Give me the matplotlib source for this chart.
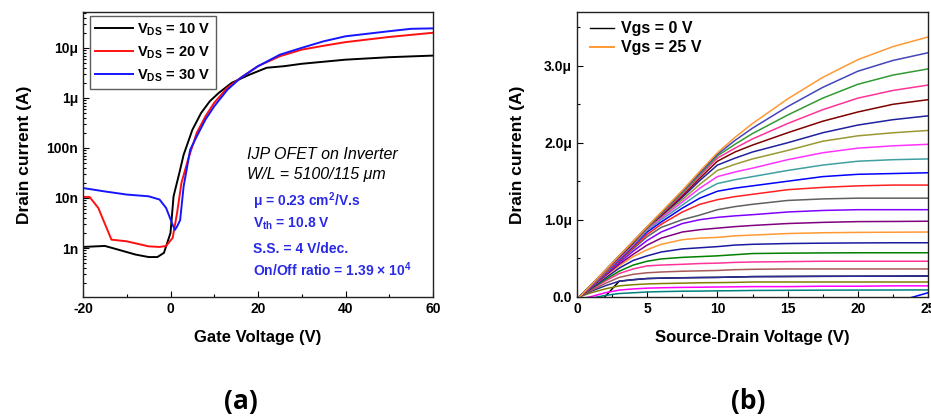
import numpy as np
import matplotlib
matplotlib.use("Agg")
import matplotlib.pyplot as plt
from matplotlib.lines import Line2D
from matplotlib.ticker import FixedLocator, NullFormatter, LogLocator, MultipleLocator

plt.rcParams['font.family'] = ['Liberation Sans', 'DejaVu Sans']
plt.rcParams['font.weight'] = 'bold'
plt.rcParams['axes.unicode_minus'] = False
plt.rcParams['mathtext.fontset'] = 'custom'
plt.rcParams['mathtext.rm'] = 'Liberation Sans:bold'
plt.rcParams['mathtext.bf'] = 'Liberation Sans:bold'
plt.rcParams['mathtext.it'] = 'Liberation Sans:bold:italic'
plt.rcParams['mathtext.default'] = 'bf'

# ---------------- (a) transfer curves ----------------
vg_10 = [-20, -15, -12, -8, -5, -3, -1.5, 0, 0.7, 2, 3, 5, 7, 9, 11, 14, 18, 22, 26, 30, 40, 50, 60]
id_10 = [1.05e-9, 1.1e-9, 0.93e-9, 0.74e-9, 0.66e-9, 0.66e-9, 0.8e-9, 2e-9, 10.8e-9, 31e-9, 73e-9,
         230e-9, 500e-9, 860e-9, 1.25e-6, 2e-6, 2.9e-6, 4e-6, 4.3e-6, 4.8e-6, 5.8e-6, 6.5e-6, 7e-6]

vg_20 = [-20, -18.5, -16.5, -13.5, -10, -5, -2.5, -1, 0.5, 1.5, 2.5, 4, 6, 8, 10, 13, 16, 20, 25, 30, 35, 40, 50, 60]
id_20 = [10.5e-9, 10.5e-9, 6.3e-9, 1.47e-9, 1.36e-9, 1.08e-9, 1.05e-9, 1.1e-9, 1.6e-9, 5e-9, 20e-9, 58e-9,
         200e-9, 430e-9, 800e-9, 1.6e-6, 2.5e-6, 4.3e-6, 6.8e-6, 9.2e-6, 11e-6, 13e-6, 16.5e-6, 20e-6]

vg_30 = [-20, -15, -10, -5, -2.5, -1, 0.5, 1, 1.5, 2.2, 3, 4.5, 6, 8, 10, 13, 16, 20, 25, 30, 35, 40, 50, 55, 60]
id_30 = [15.8e-9, 13.5e-9, 11.7e-9, 10.8e-9, 9.3e-9, 6.3e-9, 2.9e-9, 2.3e-9, 2.7e-9, 3.6e-9, 17e-9, 92e-9,
         170e-9, 370e-9, 680e-9, 1.45e-6, 2.5e-6, 4.3e-6, 7.3e-6, 10e-6, 13.5e-6, 17e-6, 21.5e-6, 24e-6, 24.5e-6]

transfer_labels = [r'V$_{\mathrm{DS}}$ = 10 V', r'V$_{\mathrm{DS}}$ = 20 V', r'V$_{\mathrm{DS}}$ = 30 V']
transfer_colors = ['#000000', '#FF1010', '#1515FF']
ylog_ticks = [1e-9, 1e-8, 1e-7, 1e-6, 1e-5]
ylog_labels = ['1n', '10n', '100n', '1\u03bc', '10\u03bc']

# ---------------- (b) output curves ----------------
vds = [0.2, 1, 2, 3, 4, 5, 6, 7.5, 8.75, 10, 11.25, 12.5, 15, 17.5, 20, 22.5, 25]
vgs_values = list(range(26))
# drain current (uA) for Vgs = 0 ... 25 V
id_out = [
    [-0.4, -0.2, 0.0, 0.2, 0.22, 0.235, 0.24, 0.245, 0.248, 0.25, 0.255, 0.26, 0.262, 0.264, 0.265, 0.266, 0.268],     # 0
    [-0.1] * 17,                                                                                               # 1
    [-0.2, -0.2, -0.2, -0.2, -0.2, -0.2, -0.2, -0.2, -0.2, -0.2, -0.2, -0.2, -0.2, -0.2, -0.15, -0.08, 0.05],  # 2
    [-0.05, -0.02, 0.015, 0.04, 0.05, 0.06, 0.065, 0.07, 0.072, 0.075, 0.077, 0.08, 0.082, 0.084, 0.085, 0.086, 0.087],  # 3
    [-0.03, 0.0, 0.05, 0.085, 0.1, 0.11, 0.115, 0.12, 0.122, 0.125, 0.127, 0.13, 0.13, 0.135, 0.135, 0.14, 0.14],       # 4
    [0, 0.05, 0.1, 0.14, 0.155, 0.165, 0.17, 0.175, 0.18, 0.182, 0.185, 0.19, 0.19, 0.19, 0.19, 0.19, 0.19],            # 5
    [0, 0.07, 0.14, 0.2, 0.22, 0.235, 0.24, 0.245, 0.248, 0.25, 0.255, 0.26, 0.262, 0.264, 0.265, 0.266, 0.268],        # 6
    [0, 0.08, 0.17, 0.25, 0.29, 0.31, 0.32, 0.33, 0.335, 0.34, 0.35, 0.355, 0.36, 0.36, 0.36, 0.36, 0.36],              # 7
    [0, 0.09, 0.2, 0.3, 0.36, 0.4, 0.41, 0.42, 0.43, 0.435, 0.445, 0.45, 0.455, 0.46, 0.46, 0.46, 0.46],                # 8
    [0, 0.1, 0.22, 0.33, 0.41, 0.46, 0.49, 0.51, 0.52, 0.53, 0.545, 0.56, 0.565, 0.568, 0.57, 0.57, 0.57],             # 9
    [0, 0.11, 0.24, 0.37, 0.47, 0.53, 0.58, 0.62, 0.635, 0.65, 0.67, 0.68, 0.69, 0.695, 0.698, 0.7, 0.7],               # 10
    [0, 0.12, 0.26, 0.4, 0.52, 0.61, 0.68, 0.74, 0.76, 0.77, 0.79, 0.8, 0.82, 0.83, 0.835, 0.837, 0.84],                # 11
    [0, 0.12, 0.27, 0.42, 0.55, 0.67, 0.76, 0.84, 0.87, 0.89, 0.91, 0.925, 0.95, 0.965, 0.975, 0.977, 0.98],            # 12
    [0, 0.13, 0.28, 0.44, 0.59, 0.73, 0.84, 0.95, 1.0, 1.03, 1.05, 1.065, 1.1, 1.12, 1.13, 1.13, 1.13],                 # 13
    [0, 0.13, 0.29, 0.46, 0.62, 0.78, 0.9, 1.0, 1.06, 1.13, 1.17, 1.2, 1.25, 1.27, 1.28, 1.28, 1.28],                   # 14
    [0, 0.14, 0.3, 0.47, 0.64, 0.81, 0.94, 1.1, 1.2, 1.26, 1.3, 1.33, 1.39, 1.42, 1.44, 1.45, 1.45],                    # 15
    [0, 0.14, 0.31, 0.48, 0.66, 0.84, 0.97, 1.15, 1.28, 1.37, 1.41, 1.44, 1.5, 1.56, 1.59, 1.6, 1.61],                  # 16
    [0, 0.14, 0.31, 0.49, 0.67, 0.86, 1.0, 1.19, 1.35, 1.47, 1.52, 1.56, 1.64, 1.71, 1.76, 1.78, 1.79],                 # 17
    [0, 0.14, 0.32, 0.5, 0.68, 0.88, 1.02, 1.23, 1.41, 1.56, 1.62, 1.67, 1.78, 1.87, 1.93, 1.96, 1.98],                 # 18
    [0, 0.15, 0.32, 0.51, 0.69, 0.89, 1.04, 1.26, 1.46, 1.64, 1.72, 1.79, 1.9, 2.02, 2.09, 2.13, 2.16],                 # 19
    [0, 0.15, 0.33, 0.51, 0.7, 0.9, 1.05, 1.29, 1.51, 1.71, 1.8, 1.88, 2.0, 2.13, 2.23, 2.3, 2.35],                     # 20
    [0, 0.15, 0.33, 0.52, 0.7, 0.9, 1.06, 1.31, 1.54, 1.76, 1.88, 1.97, 2.13, 2.28, 2.4, 2.5, 2.56],                    # 21
    [0, 0.15, 0.33, 0.52, 0.71, 0.9, 1.07, 1.33, 1.57, 1.8, 1.93, 2.05, 2.25, 2.43, 2.58, 2.68, 2.75],                  # 22
    [0, 0.15, 0.34, 0.53, 0.71, 0.9, 1.08, 1.35, 1.59, 1.83, 1.98, 2.12, 2.36, 2.58, 2.76, 2.88, 2.96],                 # 23
    [0, 0.15, 0.34, 0.53, 0.72, 0.91, 1.09, 1.37, 1.61, 1.85, 2.03, 2.19, 2.47, 2.72, 2.93, 3.07, 3.17],                # 24
    [0, 0.15, 0.34, 0.53, 0.72, 0.91, 1.1, 1.38, 1.63, 1.87, 2.07, 2.25, 2.57, 2.85, 3.08, 3.25, 3.375],                # 25
]
out_colors = ['#000000', '#FF0000', '#0000FF', '#008080', '#FF00FF', '#808000', '#2B2B9A', '#A85858',
              '#FF3399', '#008000', '#1A1AA0', '#FF9933', '#800080', '#8000FF', '#606060', '#FF2020',
              '#0000FF', '#40A0A0', '#FF33FF', '#999933', '#2020A0', '#800000', '#FF3399', '#339933',
              '#4444BB', '#FF9933']
out_ytick_vals = [0.0, 1.0e-6, 2.0e-6, 3.0e-6]
out_ytick_labels = ['0.0', '1.0\u03bc', '2.0\u03bc', '3.0\u03bc']

W, H = 931, 418
fig = plt.figure(figsize=(W / 100, H / 100), dpi=100)

def box(l, t, r, b):
    return [l / W, 1 - b / H, (r - l) / W, (b - t) / H]

# ---------- panel (a) ----------
ax1 = fig.add_axes(box(83, 12, 433, 297))
for x, y, c, lab in zip([vg_10, vg_20, vg_30], [id_10, id_20, id_30], transfer_colors, transfer_labels):
    ax1.plot(x, y, color=c, lw=1.4, label=lab)
ax1.set_yscale('log')
ax1.set_xlim(-20, 60)
ax1.set_ylim(1.05e-10, 5.2e-5)
ax1.yaxis.set_major_locator(FixedLocator(ylog_ticks))
ax1.set_yticklabels(ylog_labels)
ax1.yaxis.set_minor_locator(LogLocator(base=10, subs=np.arange(2, 10), numticks=20))
ax1.yaxis.set_minor_formatter(NullFormatter())
ax1.xaxis.set_major_locator(MultipleLocator(20))
ax1.xaxis.set_minor_locator(MultipleLocator(10))
ax1.tick_params(which='both', direction='in', labelsize=10, width=0.8)
ax1.tick_params(which='major', length=4)
ax1.tick_params(which='minor', length=2)
ax1.set_xlabel('Gate Voltage (V)', fontsize=12, fontweight='bold', labelpad=10)
ax1.set_ylabel('Drain current (A)', fontsize=12.5, fontweight='bold', labelpad=10)
leg = ax1.legend(loc='upper left', fontsize=10.5, frameon=True, fancybox=False, edgecolor='#333333',
                 handlelength=2.6, handletextpad=0.3, borderpad=0.35, labelspacing=0.45,
                 bbox_to_anchor=(0.02, 0.985), borderaxespad=0)
leg.get_frame().set_linewidth(1.0)

blue_txt = '#2A2AE6'
ax1.text(0.47, 0.5, 'IJP OFET on Inverter', transform=ax1.transAxes, fontsize=11.5,
         style='italic', fontweight='normal', va='center', ha='left')
ax1.text(0.47, 0.43, 'W/L = 5100/115 \u03bcm', transform=ax1.transAxes, fontsize=11.5,
         style='italic', fontweight='normal', va='center', ha='left')
ax1.text(0.485, 0.335, '\u03bc = 0.23 cm$^{2}$/V.s', transform=ax1.transAxes, fontsize=10,
         color=blue_txt, va='center', ha='left')
ax1.text(0.485, 0.258, 'V$_{th}$ = 10.8 V', transform=ax1.transAxes, fontsize=10,
         color=blue_txt, va='center', ha='left')
ax1.text(0.485, 0.168, 'S.S. = 4 V/dec.', transform=ax1.transAxes, fontsize=10,
         color=blue_txt, va='center', ha='left')
ax1.text(0.485, 0.095, 'On/Off ratio = 1.39 \u00d7 10$^{4}$', transform=ax1.transAxes, fontsize=10,
         color=blue_txt, va='center', ha='left')

# ---------- panel (b) ----------
ax2 = fig.add_axes(box(577, 12, 928, 297))
for vg, vals, c in zip(vgs_values, id_out, out_colors):
    ax2.plot(vds, np.array(vals) * 1e-6, color=c, lw=1.1)
ax2.set_xlim(0, 25)
ax2.set_ylim(-0.005e-6, 3.7e-6)
ax2.yaxis.set_major_locator(FixedLocator(out_ytick_vals))
ax2.set_yticklabels(out_ytick_labels)
ax2.yaxis.set_minor_locator(MultipleLocator(0.5e-6))
ax2.xaxis.set_major_locator(MultipleLocator(5))
ax2.xaxis.set_minor_locator(MultipleLocator(2.5))
ax2.tick_params(which='both', direction='in', labelsize=10, width=0.8)
ax2.tick_params(which='major', length=4)
ax2.tick_params(which='minor', length=2)
ax2.set_xlabel('Source-Drain Voltage (V)', fontsize=12, fontweight='bold', labelpad=10)
ax2.set_ylabel('Drain current (A)', fontsize=12.5, fontweight='bold', labelpad=14)
handles = [Line2D([], [], color=out_colors[0], lw=1.0), Line2D([], [], color=out_colors[-1], lw=1.4)]
ax2.legend(handles, ['Vgs = 0 V', 'Vgs = 25 V'], loc='upper left', fontsize=11.5, frameon=False,
           handlelength=1.5, handletextpad=0.4, labelspacing=0.25, bbox_to_anchor=(0.02, 0.99),
           borderaxespad=0)

for ax in (ax1, ax2):
    for s in ax.spines.values():
        s.set_linewidth(1.0)
        s.set_color('#222222')

fig.text(241 / W, 1 - 402 / H, '(a)', fontsize=19, fontweight='bold', family=['Open Sans', 'DejaVu Sans'],
         ha='center', va='center')
fig.text(748 / W, 1 - 402 / H, '(b)', fontsize=19, fontweight='bold', family=['Open Sans', 'DejaVu Sans'],
         ha='center', va='center')

fig.savefig('out.png', dpi=100)
